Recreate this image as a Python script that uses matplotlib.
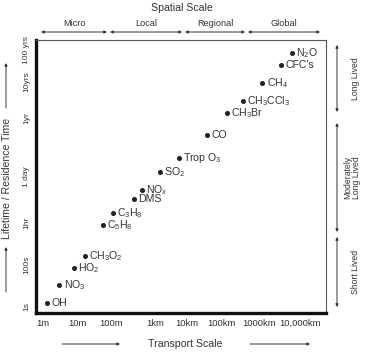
import matplotlib
matplotlib.use("Agg")
import matplotlib.pyplot as plt

plt.rcParams['font.family'] = ['Liberation Sans', 'DejaVu Sans']
plt.rcParams['mathtext.fontset'] = 'custom'
plt.rcParams['mathtext.rm'] = 'Liberation Sans'
plt.rcParams['mathtext.it'] = 'Liberation Sans:italic'
plt.rcParams['mathtext.bf'] = 'Liberation Sans:bold'

# Species (label, transport-scale position in decades of m, lifetime position)
species = ['OH', r'NO$_3$', r'HO$_2$', r'CH$_3$O$_2$', r'C$_5$H$_8$', r'C$_3$H$_8$',
           'DMS', r'NO$_x$', r'SO$_2$', r'Trop O$_3$', 'CO', r'CH$_3$Br',
           r'CH$_3$CCl$_3$', r'CH$_4$', "CFC's", r'N$_2$O']
x_scale = [0.11, 0.44, 0.84, 1.14, 1.63, 1.91, 2.48, 2.70, 3.19, 3.70, 4.47, 5.01,
           5.45, 5.97, 6.48, 6.78]
y_life = [0.48, 1.33, 2.14, 2.71, 4.19, 4.76, 5.43, 5.86, 6.71, 7.38, 8.48, 9.52,
          10.10, 10.95, 11.81, 12.38]

x_tick_pos = [0, 0.93, 1.85, 3.05, 3.92, 4.85, 5.89, 7.0]
x_tick_labels = ['1m', '10m', '100m', '1km', '10km', '100km', '1000km', '10,000km']
y_tick_pos = [0.29, 2.29, 4.29, 6.48, 9.29, 11.0, 12.5]
y_tick_labels = ['1s', '100s', '1hr', '1 day', '1yr', '10yrs', '100 yrs']

spatial_regions = ['Micro', 'Local', 'Regional', 'Global']
lifetime_classes = ['Long Lived', 'Moderately\nLong Lived', 'Short Lived']

W, H = 367, 353
fig = plt.figure(figsize=(W / 100, H / 100), dpi=100)
ax = fig.add_axes([36 / W, 1 - 313 / H, 290 / W, 273 / H])

text_col = '#333333'
ax.plot(x_scale, y_life, 'o', color='#222222', markersize=2.6, linestyle='none')
for s, x, y in zip(species, x_scale, y_life):
    ax.text(x + 0.12, y, s, fontsize=7.6, color=text_col, va='center', ha='left')

ax.set_xlim(-0.19, 7.71)
ax.set_ylim(0, 13.0)
ax.set_xticks(x_tick_pos)
ax.set_xticklabels(x_tick_labels, fontsize=6.8, color=text_col)
ax.set_yticks(y_tick_pos)
ax.set_yticklabels(y_tick_labels, fontsize=6.0, color=text_col, rotation=90, va='center')
ax.tick_params(length=0, pad=4)
ax.tick_params(axis='y', pad=4)

for side in ['left', 'bottom']:
    ax.spines[side].set_linewidth(2.4)
    ax.spines[side].set_color('#111111')
for side in ['top', 'right']:
    ax.spines[side].set_linewidth(0.8)
    ax.spines[side].set_color('#555555')


def fx(p):
    return p / W


def fy(p):
    return 1 - p / H


arrow_kw = dict(arrowstyle='<|-|>', color='#333333', lw=0.7, mutation_scale=4,
                shrinkA=0, shrinkB=0)
single_kw = dict(arrowstyle='-|>', color='#333333', lw=0.7, mutation_scale=4,
                 shrinkA=0, shrinkB=0)

# Spatial scale header
fig.text(fx(182), fy(8), 'Spatial Scale', fontsize=7.6, color=text_col, ha='center', va='center')
region_spans = [(41, 107), (110, 182), (185, 245), (248, 320)]
for name, (a, b) in zip(spatial_regions, region_spans):
    fig.text(fx((a + b) / 2), fy(24), name, fontsize=6.6, color=text_col, ha='center', va='center')
    fig.add_artist(matplotlib.patches.FancyArrowPatch((fx(a), fy(32)), (fx(b), fy(32)),
                                                      transform=fig.transFigure, **arrow_kw))

# Lifetime classes on right
class_spans = [(45, 112), (123, 232), (237, 307)]
class_x = [355, 352, 355]
for name, (a, b), tx in zip(lifetime_classes, class_spans, class_x):
    fig.add_artist(matplotlib.patches.FancyArrowPatch((fx(337), fy(b)), (fx(337), fy(a)),
                                                      transform=fig.transFigure, **arrow_kw))
    fig.text(fx(tx), fy((a + b) / 2), name, fontsize=6.2, color=text_col, ha='center',
             va='center', rotation=90, linespacing=1.0)

# Y axis label with arrows
fig.text(fx(7), fy(178), 'Lifetime / Residence Time', fontsize=7.6, color=text_col,
         ha='center', va='center', rotation=90)
fig.add_artist(matplotlib.patches.FancyArrowPatch((fx(6), fy(108)), (fx(6), fy(63)),
                                                  transform=fig.transFigure, **single_kw))
fig.add_artist(matplotlib.patches.FancyArrowPatch((fx(6), fy(292)), (fx(6), fy(247)),
                                                  transform=fig.transFigure, **single_kw))

# X axis label with arrows
fig.text(fx(185), fy(344), 'Transport Scale', fontsize=7.6, color=text_col, ha='center', va='center')
fig.add_artist(matplotlib.patches.FancyArrowPatch((fx(62), fy(344)), (fx(120), fy(344)),
                                                  transform=fig.transFigure, **single_kw))
fig.add_artist(matplotlib.patches.FancyArrowPatch((fx(250), fy(344)), (fx(310), fy(344)),
                                                  transform=fig.transFigure, **single_kw))

fig.savefig('out.png', dpi=100)
